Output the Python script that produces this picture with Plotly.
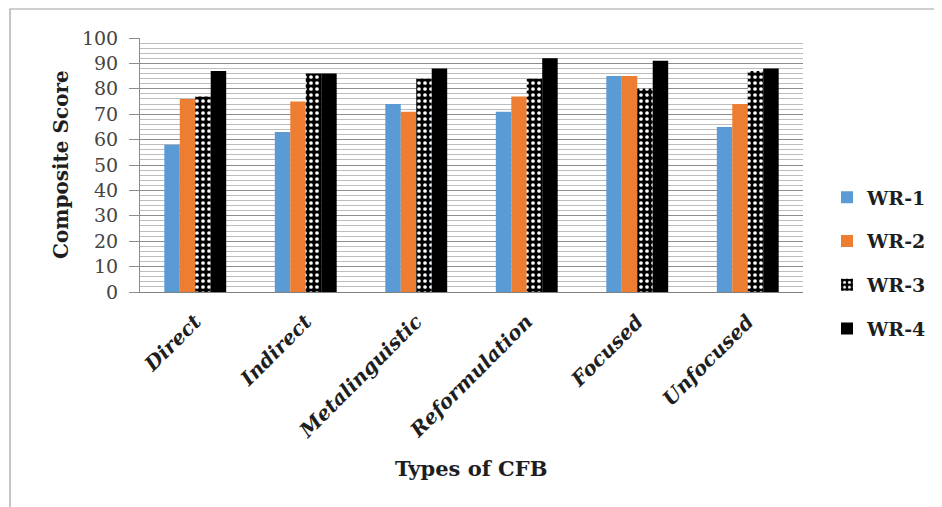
import plotly.graph_objects as go

categories = ["Direct", "Indirect", "Metalinguistic", "Reformulation", "Focused", "Unfocused"]
wr1 = [58, 63, 74, 71, 85, 65]
wr2 = [76, 75, 71, 77, 85, 74]
wr3 = [77, 86, 84, 84, 80, 87]
wr4 = [87, 86, 88, 92, 91, 88]
series_names = ["WR-1", "WR-2", "WR-3", "WR-4"]
y_ticks = list(range(0, 101, 10))

FONT = "DejaVu Serif"
TXT = "#1e1e1e"

# page body has an 8px margin; figure is sized to fill the rest of the window
W, H = 934, 499
ML, MR, MT, MB = 132, 139, 30, 215
PL, PB = 140, 292  # screen coords of plot left / bottom
pw = W - ML - MR
ph = H - MT - MB


def sx(p):
    return (p - PL) / pw


def sy(p):
    return (PB - p) / ph


fig = go.Figure()
fig.add_trace(go.Bar(x=categories, y=wr1, name=series_names[0], legendgroup="a",
                     marker=dict(color="#5B9BD5", line=dict(width=0))))
fig.add_trace(go.Bar(x=categories, y=wr2, name=series_names[1], legendgroup="b",
                     marker=dict(color="#ED7D31", line=dict(width=0))))
fig.add_trace(go.Bar(x=categories, y=wr3, name=series_names[2], legendgroup="c",
                     marker=dict(color="#000000", line=dict(width=0),
                                 pattern=dict(shape=".", bgcolor="#000000", fgcolor="#ffffff",
                                              size=6, solidity=0.3, fillmode="replace"))))
fig.add_trace(go.Bar(x=categories, y=wr4, name=series_names[3], legendgroup="d",
                     marker=dict(color="#000000", line=dict(width=0))))

# outer frame of the figure image
fig.add_shape(type="rect", xref="paper", yref="paper",
              x0=sx(10), x1=sx(940), y0=sy(520), y1=sy(9),
              line=dict(color="#a0a0a0", width=1.2), fillcolor="rgba(0,0,0,0)", layer="below")

fig.add_annotation(text="<b>Types of CFB</b>", xref="paper", yref="paper",
                   x=sx(471), y=sy(468), xanchor="center", yanchor="middle", showarrow=False,
                   font=dict(family=FONT, size=21, color=TXT))
fig.add_annotation(text="<b>Composite Score</b>", xref="paper", yref="paper",
                   x=sx(61), y=sy(165), xanchor="center", yanchor="middle", showarrow=False,
                   textangle=-90, font=dict(family=FONT, size=20, color=TXT))

fig.update_layout(
    width=W, height=H,
    margin=dict(l=ML, r=MR, t=MT, b=MB, autoexpand=False),
    paper_bgcolor="white", plot_bgcolor="white",
    barmode="group", bargap=0.44, bargroupgap=0,
    font=dict(family=FONT, color=TXT),
    showlegend=True,
    legend=dict(x=sx(827), y=sy(263), xanchor="left", yanchor="middle",
                font=dict(family=FONT, size=19, color=TXT, weight="bold"),
                tracegroupgap=16, itemwidth=30, bgcolor="rgba(0,0,0,0)"),
    xaxis=dict(
        automargin=False,
        tickangle=-45,
        tickfont=dict(family=FONT, size=20, color=TXT, weight="bold", style="italic"),
        ticklabelstandoff=9,
        showgrid=False, showline=True, linecolor="#808080", linewidth=1,
        ticks="",
    ),
    yaxis=dict(
        automargin=False,
        range=[0, 100], tickvals=y_ticks,
        tickfont=dict(family=FONT, size=19, color="#444444"),
        showgrid=True, gridcolor="#8c8c8c", gridwidth=1,
        minor=dict(dtick=2, showgrid=True, gridcolor="#bdbdbd", gridwidth=1),
        ticks="outside", ticklen=10, tickcolor="#8c8c8c",
        ticklabelstandoff=7,
        showline=True, linecolor="#8c8c8c", linewidth=1,
        zeroline=False,
    ),
)

fig.write_html("out.html")
